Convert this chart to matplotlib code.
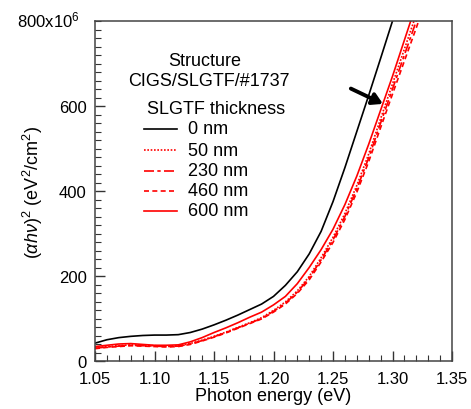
import matplotlib
matplotlib.use("Agg")
import matplotlib.pyplot as plt
from matplotlib.ticker import MultipleLocator, FixedLocator

plt.rcParams['font.family'] = ['Liberation Sans', 'DejaVu Sans']
plt.rcParams['mathtext.fontset'] = 'custom'
plt.rcParams['mathtext.rm'] = 'Liberation Sans'
plt.rcParams['mathtext.it'] = 'Liberation Sans:italic'

# ---- data (values in units of 1e6 eV^2/cm^2) ----
energy_0 = [1.05, 1.06, 1.07, 1.08, 1.09, 1.10, 1.11, 1.12, 1.13, 1.14, 1.15, 1.16,
            1.17, 1.18, 1.19, 1.20, 1.21, 1.22, 1.23, 1.24, 1.25, 1.26, 1.27, 1.28,
            1.29, 1.30, 1.31]
val_0nm = [42, 50, 55, 58, 60, 61, 61, 62, 67, 75, 85, 96,
           108, 121, 134, 152, 178, 210, 252, 305, 375, 455, 540, 625,
           712, 800, 890]

energy_r = [1.05, 1.06, 1.07, 1.08, 1.09, 1.10, 1.11, 1.12, 1.13, 1.14, 1.15, 1.16,
            1.17, 1.18, 1.19, 1.20, 1.21, 1.22, 1.23, 1.24, 1.25, 1.26, 1.27, 1.28,
            1.29, 1.30, 1.31, 1.32, 1.33]
val_50nm = [31, 34, 36, 38, 37, 36, 35, 36, 41, 49, 58, 68,
            79, 90, 102, 119, 139, 165, 199, 243, 291, 347, 413, 487,
            570, 652, 734, 816, 900]
val_230nm = [30, 33, 35, 37, 36, 35, 34, 35, 40, 48, 57, 67,
             78, 89, 100, 117, 136, 162, 195, 238, 285, 340, 405, 478,
             560, 640, 720, 800, 880]
val_460nm = [29, 32, 34, 36, 35, 34, 33, 34, 39, 47, 56, 66,
             77, 88, 99, 115, 134, 159, 191, 233, 279, 333, 397, 469,
             549, 628, 706, 784, 865]
val_600nm = [34, 37, 40, 41, 39, 37, 37, 38, 45, 55, 67, 78,
             90, 103, 115, 132, 152, 182, 220, 262, 310, 368, 435, 510,
             590, 670, 755, 840, 925]

labels = ['0 nm', '50 nm', '230 nm', '460 nm', '600 nm']
x_ticks = [1.05, 1.10, 1.15, 1.20, 1.25, 1.30, 1.35]
y_ticks = [0, 200, 400, 600]

# ---- figure ----
fig = plt.figure(figsize=(4.71, 4.10), dpi=100)
ax = fig.add_axes([95/471, 48/410, 357/471, 340/410])

styles = [
    dict(color='black', ls='-'),
    dict(color='red', ls=(0, (1, 1))),
    dict(color='red', ls=(0, (6, 2, 2, 2))),
    dict(color='red', ls=(0, (3, 2))),
    dict(color='red', ls='-'),
]
series = [(energy_0, val_0nm), (energy_r, val_50nm), (energy_r, val_230nm),
          (energy_r, val_460nm), (energy_r, val_600nm)]
for (x, y), st in zip(series, styles):
    ax.plot(x, y, lw=1.2, **st)

ax.set_xlim(1.05, 1.35)
ax.set_ylim(0, 800)
ax.xaxis.set_major_locator(FixedLocator(x_ticks))
ax.xaxis.set_minor_locator(MultipleLocator(0.01))
ax.yaxis.set_major_locator(FixedLocator(y_ticks))
ax.yaxis.set_minor_locator(MultipleLocator(20))
ax.set_xticklabels([f"{v:.2f}" for v in x_ticks])
ax.set_yticklabels([str(v) for v in y_ticks])
ax.tick_params(which='both', direction='in', top=False, right=False,
               labelsize=12, colors='#333333', labelcolor='black')
ax.tick_params(axis='x', which='major', pad=7)
ax.tick_params(axis='y', which='major', pad=6)
ax.tick_params(which='major', length=7, width=1)
ax.tick_params(which='minor', length=4, width=0.8)
for s in ax.spines.values():
    s.set_color('#444444')
    s.set_linewidth(1.1)

ax.text(-0.042, 1.005, r'800x10$^{6}$', transform=ax.transAxes, ha='right',
        va='center', fontsize=12)

ax.set_xlabel('Photon energy (eV)', fontsize=13, labelpad=1)
ax.set_ylabel(r'$(\alpha h\nu)^2$ (eV$^2$/cm$^2$)', fontsize=13, labelpad=10)

# legend (manual)
def axx(px):
    return (px - 95) / 357
def axy(py):
    return (362 - py) / 340

ax.text(axx(205), axy(62), 'Structure', transform=ax.transAxes, ha='center', va='center', fontsize=13)
ax.text(axx(208.5), axy(82), 'CIGS/SLGTF/#1737', transform=ax.transAxes, ha='center', va='center', fontsize=13)
ax.text(axx(216), axy(110), 'SLGTF thickness', transform=ax.transAxes, ha='center', va='center', fontsize=13)
rows = [130, 151, 171.5, 192, 212]
for py, lab, st in zip(rows, labels, styles):
    ax.plot([axx(144), axx(177)], [axy(py), axy(py)], transform=ax.transAxes, lw=1.2, **st)
    ax.text(axx(188), axy(py), lab, transform=ax.transAxes, ha='left', va='center', fontsize=13)

ax.annotate('', xy=(1.292, 605), xytext=(1.265, 641),
            arrowprops=dict(arrowstyle='-|>,head_length=0.6,head_width=0.35',
                            lw=2.8, color='black', shrinkA=0, shrinkB=0))

fig.savefig('out.png', dpi=100)
